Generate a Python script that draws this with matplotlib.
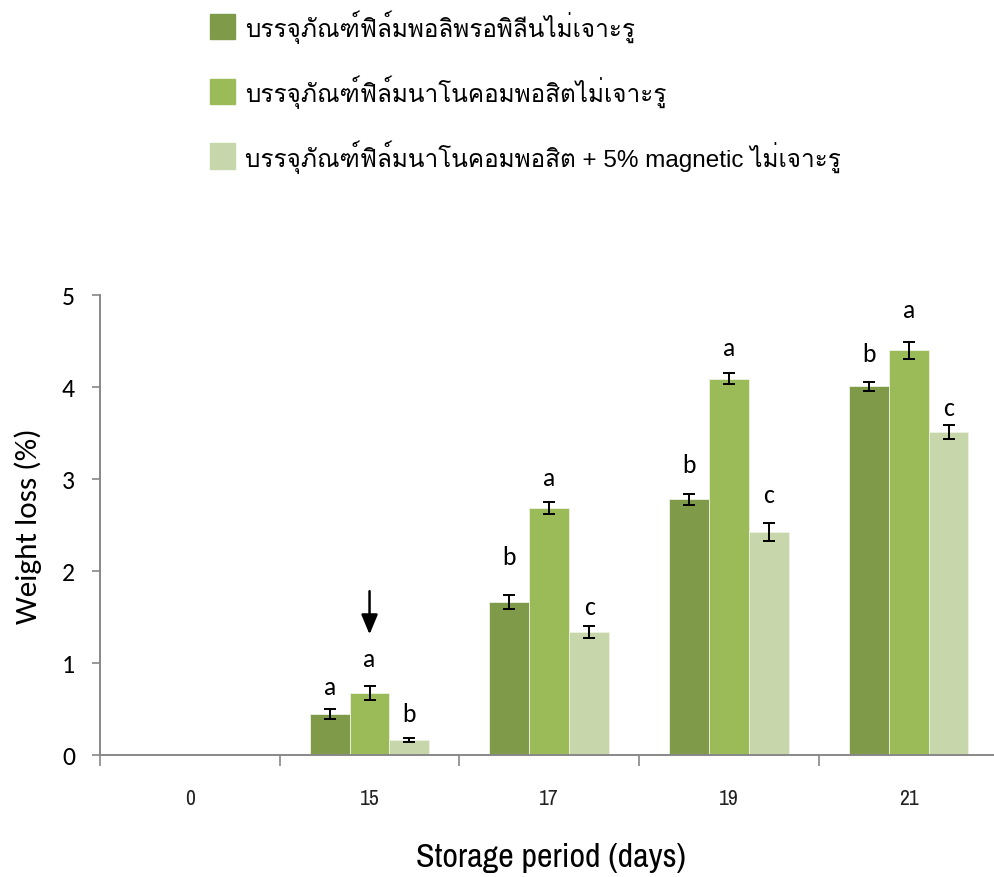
import matplotlib
matplotlib.use("Agg")
import matplotlib.pyplot as plt
from matplotlib.patches import Rectangle
import numpy as np

days = ["0", "15", "17", "19", "21"]
series_names = [
    "บรรจุภัณฑ์ฟิล์มพอลิพรอพิลีนไม่เจาะรู",
    "บรรจุภัณฑ์ฟิล์มนาโนคอมพอสิตไม่เจาะรู",
    "บรรจุภัณฑ์ฟิล์มนาโนคอมพอสิต + 5% magnetic ไม่เจาะรู",
]
pp_film = [0.0, 0.446, 1.663, 2.777, 4.007]
nano_film = [0.0, 0.672, 2.687, 4.090, 4.399]
nano_magnetic = [0.0, 0.163, 1.337, 2.426, 3.509]
pp_err = [0.0, 0.054, 0.076, 0.056, 0.050]
nano_err = [0.0, 0.080, 0.067, 0.058, 0.094]
magnetic_err = [0.0, 0.025, 0.063, 0.096, 0.080]
pp_letters = ["", "a", "b", "b", "b"]
nano_letters = ["", "a", "a", "a", "a"]
magnetic_letters = ["", "b", "c", "c", "c"]

values = [pp_film, nano_film, nano_magnetic]
errors = [pp_err, nano_err, magnetic_err]
letters = [pp_letters, nano_letters, magnetic_letters]
# gap (points) between the top of each error bar and its letter
letter_gap = [[0, 11, 22, 16, 15], [0, 14, 12, 13, 18], [0, 12, 9, 15, 7]]
colors = ["#7F9A48", "#9BBB59", "#C8D7AB"]

thai_font = ["Liberation Sans", "Loma", "DejaVu Sans"]
narrow_font = ["Liberation Sans Narrow", "Archivo Narrow", "DejaVu Sans"]
calibri_font = ["Carlito", "Lato", "DejaVu Sans"]

fig = plt.figure(figsize=(9.95, 8.78), dpi=100)
ax = fig.add_axes([0.1005, 0.139, 0.903, 0.524])

x = np.arange(len(days))
width = 0.222
for i, (vals, errs) in enumerate(zip(values, errors)):
    pos = x + (i - 1) * width
    ax.bar(pos, vals, width, color=colors[i], edgecolor="#EEF2E4", linewidth=0.6, zorder=2)
    mask = np.array(vals) > 0
    ax.errorbar(pos[mask], np.array(vals)[mask], yerr=np.array(errs)[mask], fmt="none",
                ecolor="black", elinewidth=1.4, capsize=4.5, capthick=1.4, zorder=3)
    for j in range(len(days)):
        if letters[i][j]:
            ax.annotate(letters[i][j], (pos[j], vals[j] + errs[j]), xytext=(0, letter_gap[i][j]),
                        textcoords="offset points", ha="center", va="baseline",
                        fontsize=18.5, family=calibri_font)

# arrow pointing at the nanocomposite bar on day 15
ax.annotate("", xy=(x[1], 1.28), xytext=(x[1], 1.81),
            arrowprops=dict(arrowstyle="-|>,head_length=1.2,head_width=0.5", color="black", lw=1.8))

ax.set_xlim(-0.5, len(days) - 0.5)
ax.set_ylim(0, 5)
ax.set_yticks(np.arange(0, 6, 1))
ax.set_yticklabels([str(v) for v in range(6)], family=calibri_font, fontsize=18.5)
ax.set_xticks(x)
ax.set_xticklabels(days, family=narrow_font, fontsize=15.5, color="#222222")
ax.set_xticks(np.arange(-0.5, len(days), 1), minor=True)
ax.tick_params(axis="x", which="major", length=0, pad=24)
ax.tick_params(axis="x", which="minor", length=8, width=1.2, color="#888888", direction="out")
ax.tick_params(axis="y", length=6, width=1.2, color="#888888", direction="out", pad=12)

for s in ["top", "right"]:
    ax.spines[s].set_visible(False)
for s in ["left", "bottom"]:
    ax.spines[s].set_color("#888888")
    ax.spines[s].set_linewidth(1.4)

ax.set_ylabel("Weight loss (%)", family=calibri_font, fontsize=22.5, labelpad=14)
fig.text(551 / 995, 1 - 858 / 878, "Storage period (days)", ha="center", va="center",
         family=narrow_font, fontsize=24.5)

# legend at the top
for i, name in enumerate(series_names):
    yc = 1 - (27 + 65 * i) / 878
    fig.patches.append(Rectangle((210 / 995, yc - 12.5 / 878), 25 / 995, 25 / 878,
                                 transform=fig.transFigure, color=colors[i]))
    fig.text(245 / 995, yc, name, va="center", ha="left", fontsize=17.5, family=thai_font)

fig.savefig("out.png")
